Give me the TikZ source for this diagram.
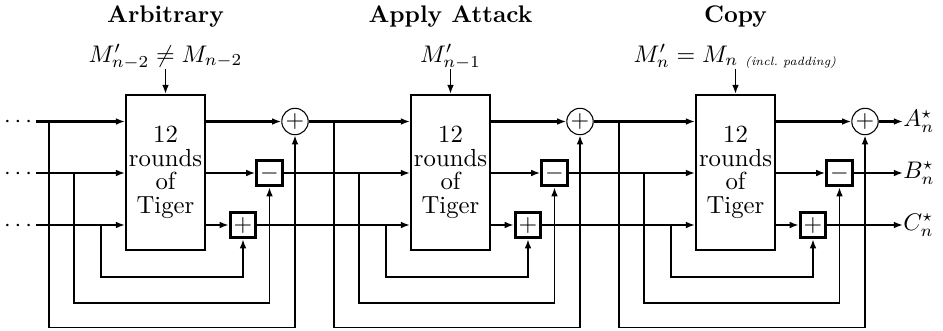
\documentclass[tikz,border=0pt]{standalone}
\usetikzlibrary{arrows.meta}
\tikzset{
  ln/.style={line width=0.8pt},
  tl/.style={line width=1.2pt},
  arr/.style={-{Latex[length=3.8pt,width=2.8pt]}},
  tiger/.style={draw, line width=0.8pt, minimum width=32.9pt, minimum height=64.6pt,
    inner sep=0pt, align=center, font=\fontsize{10.3}{9.8}\selectfont},
  opc/.style={circle, draw, line width=0.45pt, minimum size=11pt, inner sep=0pt},
  opb/.style={rectangle, draw, line width=1.2pt, minimum size=10.6pt, inner sep=0pt},
  lbl/.style={inner sep=0pt},
}
\begin{document}
\begin{tikzpicture}[x=0.41667pt, y=-0.41667pt]
\useasboundingbox (0,0) rectangle (943,330);
% leading dots and sources
\node[lbl, anchor=base east] (da) at (32.5,127.5) {$\cdots$};
\node[lbl, anchor=base east] (db) at (32.5,179) {$\cdots$};
\node[lbl, anchor=base east] (dc) at (32.5,231) {$\cdots$};
\coordinate (sa0) at (36,121.5);
\coordinate (sb0) at (36,173);
\coordinate (sc0) at (36,225);
\foreach \k/\ttl/\lab in {0/Arbitrary/{$M'_{n-2} \neq M_{n-2}$},
  1/{Apply Attack}/{$M'_{n-1}$},
  2/Copy/{$M'_n = M_{n\ \mbox{\tiny\itshape (incl.\ padding)}}$}}{
  \pgfmathsetmacro\dx{285*\k}
  \pgfmathtruncatemacro\nk{\k+1}
  \node[tiger] (box\k) at ({\dx+165.5},172.5) {12\\rounds\\of\\Tiger};
  \node[font=\bfseries] (title\k) at ({\dx+165.5},17) {\ttl};
  \node[anchor=base, inner sep=0pt] (lab\k) at ({\dx+165.5},62) {\lab};
  \coordinate (in\k) at ({\dx+165.5},69);
  \node[opc] (op\k) at ({\dx+295},121.5) {$+$};
  \node[opb] (mi\k) at ({\dx+269.5},173) {$-$};
  \node[opb] (pl\k) at ({\dx+243},225) {$+$};
  \draw[ln,arr] (in\k) -- (box\k.north);
  \draw[tl,arr] (sa\k) -- (box\k.west |- op\k);
  \draw[ln,arr] (sb\k) -- (box\k.west |- mi\k);
  \draw[ln,arr] (sc\k) -- (box\k.west |- pl\k);
  \draw[tl,arr] (box\k.east |- op\k) -- (op\k);
  \draw[ln,arr] (box\k.east |- mi\k) -- (mi\k);
  \draw[ln,arr] (box\k.east |- pl\k) -- (pl\k);
  \coordinate (ja\k) at ({\dx+49},121.5);
  \coordinate (jb\k) at ({\dx+74},173);
  \coordinate (jc\k) at ({\dx+101},225);
  \draw[ln,arr] (ja\k) -- ++(0,206) -| (op\k);
  \draw[ln,arr] (jb\k) -- ++(0,130) -| (mi\k);
  \draw[ln,arr] (jc\k) -- ++(0,52) -| (pl\k);
  \coordinate (sa\nk) at (op\k.east);
  \coordinate (sb\nk) at (mi\k.east);
  \coordinate (sc\nk) at (pl\k.east);
}
\node[lbl, anchor=west] (oa) at (903,121.5) {$A_n^\star$};
\node[lbl, anchor=west] (ob) at (903,173) {$B_n^\star$};
\node[lbl, anchor=west] (oc) at (903,225) {$C_n^\star$};
\draw[tl,arr] (op2) -- (oa);
\draw[ln,arr] (mi2) -- (ob);
\draw[ln,arr] (pl2) -- (oc);
\end{tikzpicture}
\end{document}
